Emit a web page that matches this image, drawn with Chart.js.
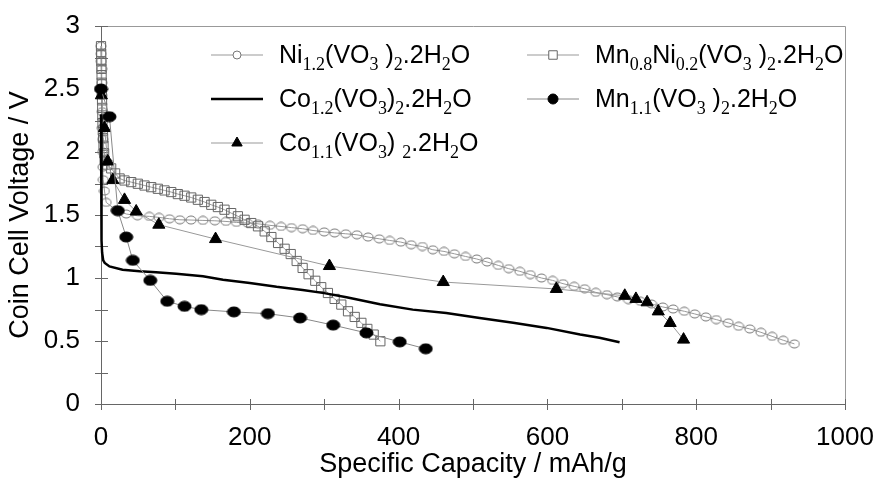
<!DOCTYPE html>
<html>
<head>
<meta charset="utf-8">
<script src="https://cdn.jsdelivr.net/npm/chart.js@4/dist/chart.umd.min.js"></script>
<style>
  body { margin: 0; background: #fff; }
  #wrap { width: 873px; height: 478px; position: relative; }
</style>
</head>
<body>
<div id="wrap"><canvas id="chart"></canvas></div>
<script>
// series names, _{..} marks a subscript
const seriesNames = [
  "Ni_{1.2}(VO_{3} )_{2}.2H_{2}O",
  "Mn_{0.8}Ni_{0.2}(VO_{3} )_{2}.2H_{2}O",
  "Co_{1.2}(VO_{3})_{2}.2H_{2}O",
  "Mn_{1.1}(VO_{3} )_{2}.2H_{2}O",
  "Co_{1.1}(VO_{3}) _{2}.2H_{2}O",
];

// Ni1.2 - specific capacity (mAh/g) and voltage (V)
const niCap = [0, 0.3, 0.6, 0.9, 1.1, 1.3, 1.6, 2.0, 2.2, 2.4, 2.6, 3.0, 4.7, 7, 20,
  34, 49, 65, 78, 92, 106, 121, 137, 153, 168, 182, 197, 211, 227, 242, 256, 271, 285,
  300, 314, 329, 344, 359, 374, 388, 403, 417, 432, 446, 461, 475, 490, 505, 519, 534,
  548, 563, 577, 592, 607, 621, 636, 650, 665, 680, 694, 709, 725, 740, 755, 769, 784,
  798, 813, 827, 843, 857, 872, 887, 902, 917, 932];
const niVolt = [2.84, 2.78, 2.72, 2.66, 2.55, 2.45, 2.32, 2.19, 2.10, 2.0, 1.88, 1.78, 1.69, 1.6, 1.54,
  1.508, 1.494, 1.489, 1.481, 1.47, 1.462, 1.46, 1.457, 1.454, 1.449, 1.441, 1.436, 1.43, 1.418, 1.409, 1.4, 1.391, 1.377,
  1.366, 1.358, 1.351, 1.343, 1.325, 1.311, 1.298, 1.285, 1.264, 1.25, 1.224, 1.211, 1.192, 1.171, 1.151, 1.127, 1.1,
  1.074, 1.053, 1.027, 1.0, 0.981, 0.955, 0.934, 0.915, 0.886, 0.868, 0.85, 0.828, 0.815, 0.794, 0.77, 0.754, 0.736,
  0.715, 0.691, 0.67, 0.644, 0.617, 0.596, 0.569, 0.537, 0.506, 0.477];

// Mn0.8Ni0.2
const mnNiCap = [0, 0.2, 0.4, 0.6, 0.8, 1.0, 1.2, 1.4, 1.6, 1.8, 2.0, 2.4, 2.8, 3.4, 4.2, 5.0,
  8.5, 13.7, 19, 25, 31.6, 40.6, 49.5, 58.5, 67.5, 76.4, 85.4, 94.4, 103.3, 112.3,
  121.3, 130.2, 139.2, 148.2, 157.1, 166, 175, 184, 193, 202, 211, 220, 229, 238, 246.8,
  255, 263, 271, 279, 288, 296, 305, 314, 323, 332, 341, 350, 358, 366.5, 375.5];
const mnNiVolt = [2.84, 2.78, 2.72, 2.66, 2.61, 2.55, 2.48, 2.41, 2.35, 2.29, 2.23, 2.17, 2.11, 2.05, 1.99, 1.93,
  1.9, 1.87, 1.83, 1.79, 1.774, 1.761, 1.748, 1.734, 1.721, 1.708, 1.695, 1.682, 1.666, 1.653,
  1.639, 1.621, 1.603, 1.581, 1.563, 1.542, 1.515, 1.49, 1.462, 1.436, 1.41, 1.37, 1.325, 1.278, 1.232,
  1.19, 1.135, 1.08, 1.03, 0.978, 0.927, 0.881, 0.834, 0.789, 0.736, 0.691, 0.644, 0.596, 0.551, 0.498];

// Co1.2 (plain line)
const co12Cap = [0, 0.4, 0.7, 1.0, 1.5, 3, 5, 11.4, 29, 52, 74, 101, 137, 164, 200, 236, 271,
  300, 330, 375, 419, 464, 509, 554, 599, 644, 670, 697];
const co12Volt = [2.3, 2.0, 1.6, 1.3, 1.2, 1.14, 1.12, 1.092, 1.066, 1.053, 1.045, 1.034, 1.013, 0.987, 0.961, 0.93, 0.905,
  0.88, 0.848, 0.792, 0.749, 0.723, 0.683, 0.644, 0.604, 0.551, 0.525, 0.49];

// Mn1.1
const mn11Cap = [0, 11.4, 22.6, 33.9, 42.8, 66.2, 89, 112.3, 134.8, 178.6, 224.3, 267.5, 312, 356.7, 401.5, 436.5];
const mn11Volt = [2.5, 2.28, 1.534, 1.325, 1.14, 0.981, 0.815, 0.775, 0.749, 0.731, 0.717, 0.683, 0.626, 0.564, 0.493, 0.438];

// Co1.1
const co11Cap = [0.5, 4.7, 9, 15.9, 31.6, 47.3, 77.7, 154, 307, 460, 612, 704, 719, 734, 749, 765, 783];
const co11Volt = [2.45, 2.19, 1.925, 1.777, 1.62, 1.528, 1.423, 1.309, 1.095, 0.968, 0.913, 0.859, 0.834, 0.807, 0.735, 0.643, 0.511];

// axis ranges
const capRange = [0, 1000];
const voltRange = [0, 3];

const SANS = '"Liberation Sans", Arial, sans-serif';
const SERIF = '"Liberation Serif", "Times New Roman", serif';

// pair up x and y arrays for Chart.js
const pairUp = (xs, ys) => xs.map((x, i) => ({ x: x, y: ys[i] }));

// small canvas with an ellipse, used as point style
const makeEllipse = (w, h, fill, stroke) => {
  const c = document.createElement("canvas");
  c.width = w + 2;
  c.height = h + 2;
  const g = c.getContext("2d");
  g.beginPath();
  g.ellipse(c.width / 2, c.height / 2, w / 2, h / 2, 0, 0, Math.PI * 2);
  if (fill) { g.fillStyle = fill; g.fill(); }
  if (stroke) { g.strokeStyle = stroke; g.lineWidth = 1; g.stroke(); }
  return c;
};
const openCircle = makeEllipse(10, 8, null, "#777");
const blackDot = makeEllipse(13, 10, "#000", "#000");

// draw text with subscripts
const drawFormula = (ctx, text, x, y) => {
  const parts = text.split(/_\{([^}]*)\}/);
  parts.forEach((p, i) => {
    if (!p) return;
    const sub = i % 2 === 1;
    ctx.font = sub ? "18px " + SERIF : "25px " + SANS;
    ctx.fillText(p, x, sub ? y + 7 : y);
    x += ctx.measureText(p).width;
  });
};

// frame around plot and ticks crossing the axes
const frameAndTicks = {
  id: "frameAndTicks",
  beforeDatasetsDraw(chart) {
    const { ctx, chartArea: a, scales } = chart;
    ctx.save();
    ctx.strokeStyle = "#999";
    ctx.lineWidth = 1;
    ctx.beginPath();
    ctx.moveTo(a.left, a.top + 0.5);
    ctx.lineTo(a.right + 0.5, a.top + 0.5);
    ctx.lineTo(a.right + 0.5, a.bottom);
    ctx.stroke();
    ctx.strokeStyle = "#666";
    ctx.beginPath();
    ctx.moveTo(a.left + 0.5, a.top);
    ctx.lineTo(a.left + 0.5, a.bottom + 0.5);
    ctx.lineTo(a.right, a.bottom + 0.5);
    ctx.stroke();
    ctx.beginPath();
    scales.y.ticks.forEach((t) => {
      const py = Math.round(scales.y.getPixelForValue(t.value)) + 0.5;
      ctx.moveTo(a.left - 6, py);
      ctx.lineTo(a.left + 7, py);
    });
    scales.x.ticks.forEach((t) => {
      const px = Math.round(scales.x.getPixelForValue(t.value)) + 0.5;
      ctx.moveTo(px, a.bottom - 5);
      ctx.lineTo(px, a.bottom + 6);
    });
    ctx.stroke();
    ctx.restore();
  },
};

// legend drawn inside the plot, 3 rows x 2 columns
const formulaLegend = {
  id: "formulaLegend",
  afterDatasetsDraw(chart) {
    const ctx = chart.ctx;
    const slots = [
      { col: 0, row: 0 }, { col: 1, row: 0 },
      { col: 0, row: 1 }, { col: 1, row: 1 },
      { col: 0, row: 2 },
    ];
    const colX = [211, 527];
    const rowY = [55, 99, 143];
    ctx.save();
    chart.data.datasets.forEach((ds, k) => {
      const s = slots[k];
      const x0 = colX[s.col];
      const y = rowY[s.row];
      // sample line
      ctx.strokeStyle = ds.borderColor;
      ctx.lineWidth = ds.borderWidth;
      ctx.beginPath();
      ctx.moveTo(x0, y);
      ctx.lineTo(x0 + 52, y);
      ctx.stroke();
      // sample marker
      if (ds.legendMarker) {
        ctx.fillStyle = ds.legendMarker.fill;
        ctx.strokeStyle = ds.legendMarker.stroke;
        ctx.lineWidth = 1;
        Chart.helpers.drawPoint(ctx, {
          pointStyle: ds.legendMarker.style,
          radius: ds.legendMarker.radius,
          rotation: 0,
          borderWidth: 1,
        }, x0 + 26, y);
      }
      ctx.fillStyle = "#000";
      ctx.textBaseline = "alphabetic";
      ctx.textAlign = "left";
      drawFormula(ctx, seriesNames[k], x0 + 68, y + 8);
    });
    ctx.restore();
  },
};

const isMultiple = (v, step) => Math.abs(v / step - Math.round(v / step)) < 1e-6;

// remove the extra room Chart.js keeps for the end labels
const zeroPadding = (scale) => {
  scale.paddingTop = 0;
  scale.paddingBottom = 0;
  scale.paddingLeft = 0;
  scale.paddingRight = 0;
};

new Chart(document.getElementById("chart"), {
  type: "scatter",
  data: {
    datasets: [
      {
        label: seriesNames[0],
        data: pairUp(niCap, niVolt),
        showLine: true,
        borderColor: "#999",
        borderWidth: 1,
        pointStyle: openCircle,
        pointRadius: 5,
        legendMarker: { style: "circle", radius: 4, fill: "#fff", stroke: "#777" },
        clip: false,
        order: 5,
      },
      {
        label: seriesNames[1],
        data: pairUp(mnNiCap, mnNiVolt),
        showLine: true,
        borderColor: "#999",
        borderWidth: 1,
        pointStyle: "rect",
        pointRadius: 6.5,
        pointBorderColor: "#666",
        pointBackgroundColor: "rgba(255,255,255,0)",
        pointBorderWidth: 1,
        legendMarker: { style: "rect", radius: 6, fill: "#fff", stroke: "#666" },
        clip: false,
        order: 4,
      },
      {
        label: seriesNames[2],
        data: pairUp(co12Cap, co12Volt),
        showLine: true,
        borderColor: "#000",
        borderWidth: 2.5,
        pointRadius: 0,
        clip: false,
        order: 3,
      },
      {
        label: seriesNames[3],
        data: pairUp(mn11Cap, mn11Volt),
        showLine: true,
        borderColor: "#888",
        borderWidth: 1,
        pointStyle: blackDot,
        pointRadius: 6,
        legendMarker: { style: "circle", radius: 5, fill: "#000", stroke: "#000" },
        clip: false,
        order: 1,
      },
      {
        label: seriesNames[4],
        data: pairUp(co11Cap, co11Volt),
        showLine: true,
        borderColor: "#999",
        borderWidth: 1,
        pointStyle: "triangle",
        pointRadius: 7,
        pointBackgroundColor: "#000",
        pointBorderColor: "#000",
        legendMarker: { style: "triangle", radius: 6, fill: "#000", stroke: "#000" },
        clip: false,
        order: 2,
      },
    ],
  },
  options: {
    responsive: true,
    maintainAspectRatio: false,
    animation: false,
    layout: { padding: { top: 26, right: 28, left: 0, bottom: 0 } },
    plugins: {
      legend: { display: false },
      tooltip: { enabled: false },
    },
    scales: {
      x: {
        type: "linear",
        min: capRange[0],
        max: capRange[1],
        grid: { display: false, drawTicks: false },
        border: { display: false },
        ticks: {
          stepSize: 100,
          autoSkip: false,
          maxRotation: 0,
          padding: 18,
          color: "#000",
          font: { family: SANS, size: 26 },
          callback: (v) => (isMultiple(v, 200) ? String(v) : ""),
        },
        title: {
          display: true,
          text: "Specific Capacity / mAh/g",
          color: "#000",
          font: { family: SANS, size: 27, lineHeight: 1 },
          padding: { top: 0, bottom: 0 },
        },
        afterFit: (scale) => { scale.height = 74; zeroPadding(scale); },
      },
      y: {
        type: "linear",
        min: voltRange[0],
        max: voltRange[1],
        grid: { display: false, drawTicks: false },
        border: { display: false },
        ticks: {
          stepSize: 0.25,
          autoSkip: false,
          padding: 21,
          color: "#000",
          font: { family: SANS, size: 26 },
          callback: (v) => (isMultiple(v, 0.5) ? String(Math.round(v * 10) / 10) : ""),
        },
        title: {
          display: true,
          text: "Coin Cell Voltage / V",
          color: "#000",
          font: { family: SANS, size: 27 },
          padding: { top: 4, bottom: 0 },
        },
        afterFit: (scale) => { scale.width = 101; zeroPadding(scale); },
      },
    },
  },
  plugins: [frameAndTicks, formulaLegend],
});
</script>
</body>
</html>
